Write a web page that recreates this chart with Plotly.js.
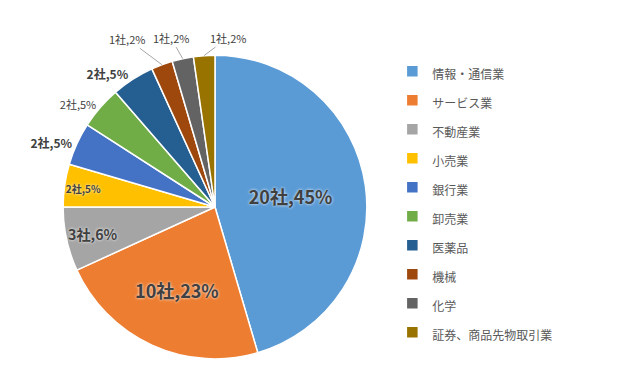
<!DOCTYPE html>
<html><head><meta charset="utf-8">
<script src="https://cdn.plot.ly/plotly-3.0.1.min.js"></script>
<style>html,body{margin:0;padding:0;background:#fff}#chart{width:639px;height:375px}</style>
</head><body><div id="chart"></div>
<script>
const categories = ['情報・通信業','サービス業','不動産業','小売業','銀行業','卸売業','医薬品','機械','化学','証券、商品先物取引業'];
const counts = [20,10,3,2,2,2,2,1,1,1];
const percentLabels = ['45%','23%','6%','5%','5%','5%','5%','2%','2%','2%'];
const colors = ['#5B9BD5','#ED7D31','#A5A5A5','#FFC000','#4472C4','#70AD47','#255E91','#9E480E','#636363','#997300'];

const labelText = counts.map((c,i)=>c+'社,'+percentLabels[i]);
const legendLabels = categories.map(c=>'<span style="font-size:12px">'+c+'</span>');

const W = 639, H = 375;
const dom = {x:[0.0986,0.5743], y:[0.043,0.853]};
const FONT = '"Noto Sans CJK JP", "Noto Sans", sans-serif';

// slices whose labels are placed with leader lines (last three)
const leaderIdx = [7,8,9];
const leaderOffsets = [[-35,-26],[-12,-21],[24,-18]];

const textpos = counts.map((c,i)=> i<4 ? 'inside' : (leaderIdx.includes(i) ? 'none' : 'outside'));

const trace = {
  type:'pie',
  values: counts,
  labels: legendLabels,
  text: labelText,
  textinfo:'text',
  hoverinfo:'label+value',
  sort:false,
  direction:'clockwise',
  rotation:0,
  marker:{colors:colors, line:{color:'#ffffff', width:1.5}},
  textposition: textpos,
  insidetextorientation:'horizontal',
  insidetextfont:{family:FONT, color:'#404040', size:[18,18,18,12,12,12,12,11,11,11], weight:'bold', shadow:'0px 0px 3px #ffffff'},
  outsidetextfont:{family:FONT, color:'#404040', size:[12,12,12,12,12,11,12,11,11,11], weight:['normal','normal','normal','normal','bold','normal','bold','normal','normal','normal']},
  domain:dom,
  showlegend:true
};

// geometry of the pie for leader-line label anchors (derived from the data)
const cxPx = (dom.x[0]+dom.x[1])/2*W;
const cyPx = (1-(dom.y[0]+dom.y[1])/2)*H;
const R = Math.min((dom.x[1]-dom.x[0])*W,(dom.y[1]-dom.y[0])*H)/2;
const total = counts.reduce((a,b)=>a+b,0);
const cum = []; counts.reduce((a,b,i)=>{cum[i]=a; return a+b;},0);
const annotations = leaderIdx.map((i,k)=>{
  const ang = (cum[i]+counts[i]/2)/total*2*Math.PI;
  const px = cxPx + R*Math.sin(ang);
  const py = cyPx - R*Math.cos(ang);
  return {
    xref:'paper', yref:'paper', x:px/W, y:1-py/H,
    text:labelText[i], showarrow:true, arrowhead:0, arrowwidth:1, arrowcolor:'#A6A6A6',
    ax:leaderOffsets[k][0], ay:leaderOffsets[k][1], standoff:0, startstandoff:0,
    font:{family:FONT, size:11, color:'#404040'}
  };
});

const layout = {
  width:W, height:H,
  margin:{l:0,r:0,t:0,b:0},
  paper_bgcolor:'#ffffff',
  font:{family:FONT, color:'#595959'},
  legend:{x:0.614, y:0.862, xanchor:'left', yanchor:'top', font:{size:20, color:'#595959'}, itemwidth:30, traceorder:'normal'},
  annotations: annotations
};

Plotly.newPlot('chart',[trace],layout,{displayModeBar:false, staticPlot:true});
</script></body></html>
